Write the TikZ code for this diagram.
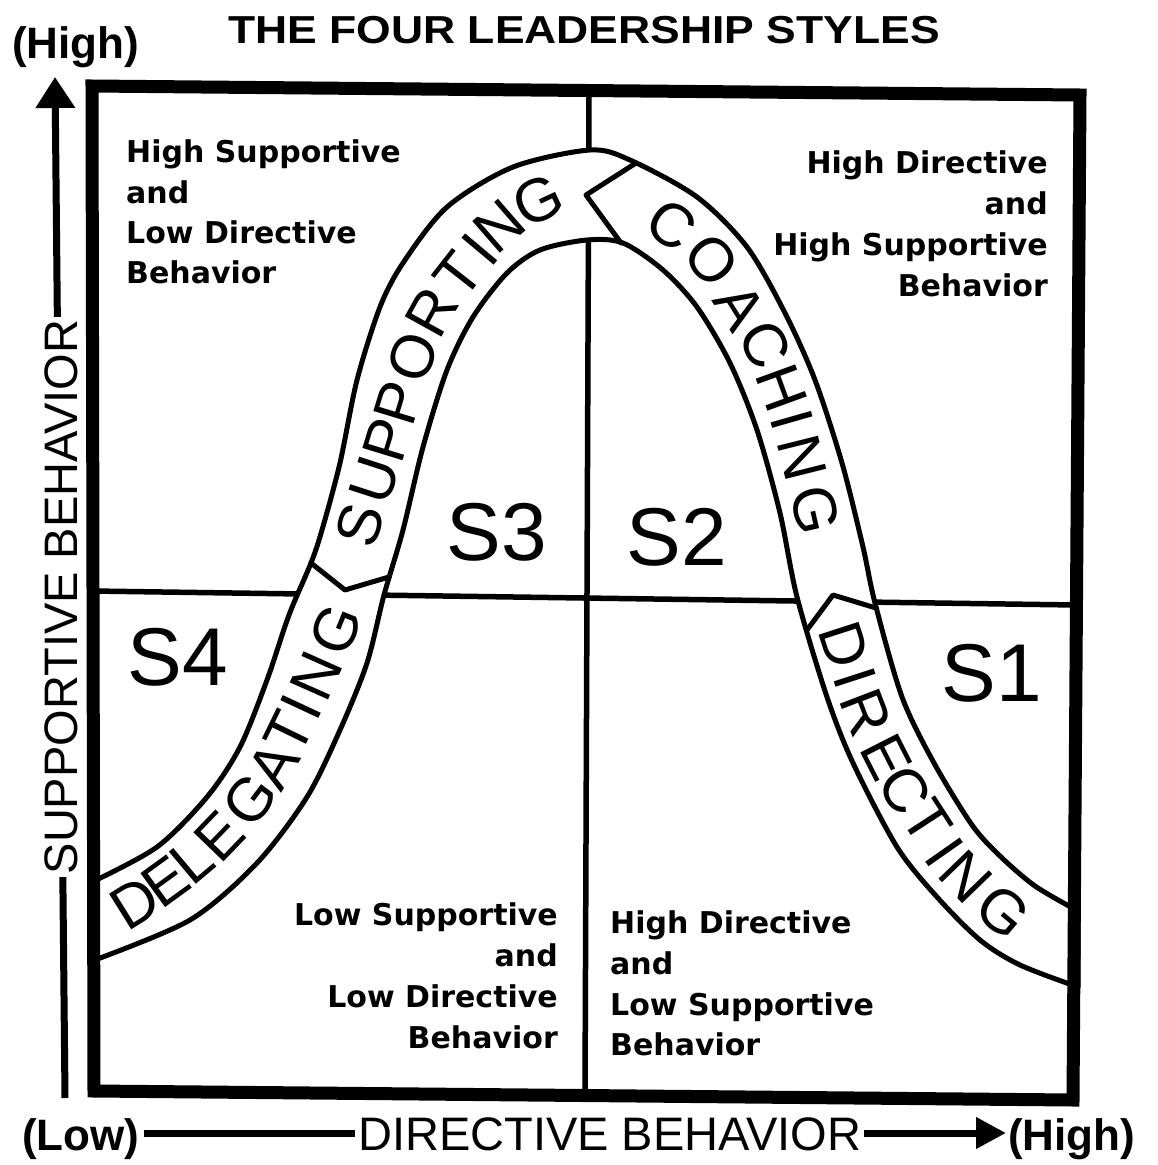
\documentclass[tikz,border=0pt]{standalone}
\usepackage{fontspec}
\setmainfont{Liberation Sans}
\newfontfamily\quadfont{DejaVu Sans}
\usetikzlibrary{arrows.meta,calc}
\begin{document}
\begin{tikzpicture}[x=1pt,y=-1pt,
  frame/.style={line width=13pt, line join=miter},
  midline/.style={line width=5.5pt},
  curve/.style={line width=5pt, line join=round, line cap=round},
  axisline/.style={line width=7pt},
  quad/.style={font={\quadfont\bfseries\fontsize{30}{30}\selectfont}, inner sep=0pt},
  slabel/.style={font={\fontsize{82}{82}\selectfont}, inner sep=0pt},
  bandletter/.style={font={\fontsize{61}{61}\selectfont}, inner sep=0pt, anchor=center},
  axlabel/.style={font={\fontsize{47}{47}\selectfont}, fill=white, inner xsep=3pt, inner ysep=2pt},
  hilo/.style={font={\bfseries\fontsize{44}{44}\selectfont}, inner sep=0pt}
]
\fill[white] (0,0) rectangle (1158,1165);
\useasboundingbox (0,0) rectangle (1158,1165);

% quadrant dividing lines
\draw[midline] (589,90) -- (585,1093);
\draw[midline] (92,591) -- (1076,605);

% the band
\filldraw[fill=white, curve] plot[smooth] coordinates {(92,882) (157,847) (207,797) (240,747) (267,680) (289,615) (311,563) (322,530) (340,463) (357,380) (380,307) (403,263) (447,207) (513,167) (590,150) (630,160) (697,197) (747,247) (785,313) (815,380) (842,463) (863,547) (875,603) (902,697) (934,763) (972,825) (1000,856) (1035,886) (1078,911)}
 -- plot[smooth] coordinates {(1078,987) (1020,965) (980,940) (937,897) (897,847) (853,763) (827,697) (797,597) (780,513) (757,430) (730,363) (697,307) (663,270) (623,243) (587,240) (540,250) (507,273) (473,317) (447,370) (423,447) (403,530) (384,595) (367,663) (340,730) (307,797) (257,863) (190,920) (92,961)} -- cycle;

% segment dividers
\draw[curve] (636,163) -- (586,195) -- (621,243);
\draw[curve] (311,563) -- (345,590) -- (389,577);
\draw[curve] (807,630) -- (833,595) -- (876,608);

% frame
\draw[frame] (92,86) -- (1080,95) -- (1073,1100) -- (94,1091) -- cycle;

% words along the band, letter by letter
\foreach \ch/\px/\py/\ang [count=\i] in {D/135/903/32, E/166/882/36, L/192/861/40, E/220/836/46, G/250/800/53, A/273/765/60, T/289/733/64, I/301/707/65, N/316/676/66, G/336/630/68}
  \node[bandletter, rotate=\ang] (del-\i) at (\px,\py) {\ch};
\foreach \ch/\px/\py/\ang [count=\i] in {S/360/525/74, U/375/480/72, P/387/440/73, P/398/403/73, O/413/357/70, R/432/312/61, T/458/275/52, I/480/250/50, N/499/226/41, G/538/200/25}
  \node[bandletter, rotate=\ang] (sup-\i) at (\px,\py) {\ch};
\foreach \ch/\px/\py/\ang [count=\i] in {C/672/225/-35, O/712/260/-50, A/740/307/-58, C/765/345/-63, H/782/388/-70, I/792/420/-74, N/802/458/-76, G/815/510/-77}
  \node[bandletter, rotate=\ang] (coa-\i) at (\px,\py) {\ch};
\foreach \ch/\px/\py/\ang [count=\i] in {D/844/645/-72, I/855/678/-72, R/866/713/-69, E/886/757/-63, C/905/790/-58, T/927/822/-57, I/945/852/-55, N/966/877/-46, G/1003/912/-40}
  \node[bandletter, rotate=\ang] (dir-\i) at (\px,\py) {\ch};

% style labels
\node[slabel] (s3) at (497,532) {S3};
\node[slabel] (s2) at (677,537) {S2};
\node[slabel] (s4) at (178,657) {S4};
\node[slabel] (s1) at (992,673) {S1};

% quadrant descriptions
\node[quad, anchor=base west] (tl1) at (126,162) {High Supportive};
\node[quad, anchor=base west] (tl2) at (126,203) {and};
\node[quad, anchor=base west] (tl3) at (126,243) {Low Directive};
\node[quad, anchor=base west] (tl4) at (126,283) {Behavior};
\node[quad, anchor=base east] (tr1) at (1048,173) {High Directive};
\node[quad, anchor=base east] (tr2) at (1048,214) {and};
\node[quad, anchor=base east] (tr3) at (1048,255) {High Supportive};
\node[quad, anchor=base east] (tr4) at (1048,296) {Behavior};
\node[quad, anchor=base east] (bl1) at (558,925) {Low Supportive};
\node[quad, anchor=base east] (bl2) at (558,966) {and};
\node[quad, anchor=base east] (bl3) at (558,1007) {Low Directive};
\node[quad, anchor=base east] (bl4) at (558,1048) {Behavior};
\node[quad, anchor=base west] (br1) at (610,933) {High Directive};
\node[quad, anchor=base west] (br2) at (610,974) {and};
\node[quad, anchor=base west] (br3) at (610,1015) {Low Supportive};
\node[quad, anchor=base west] (br4) at (610,1055) {Behavior};

% title
\node[font={\bfseries\fontsize{39}{39}\selectfont}, anchor=base, inner sep=0pt, xscale=1.14] (title) at (584,43) {THE FOUR LEADERSHIP STYLES};

% vertical axis
\node[hilo, anchor=base west] (hightop) at (12,58) {(High)};
\coordinate (vbot) at (65,1098);
\coordinate (vtop) at (55,77);
\draw[axisline, -{Triangle[width=38pt, length=31pt]}] (vbot) -- (vtop);
\node[axlabel, rotate=90] (ylab) at (61,597) {SUPPORTIVE BEHAVIOR};

% horizontal axis
\node[hilo, anchor=base west] (low) at (22,1150) {(Low)};
\node[hilo, anchor=base west] (highbot) at (1008,1150) {(High)};
\draw[axisline, -{Triangle[width=30pt, length=30pt]}] ($(low.base east)+(4,-17)$) -- ($(highbot.base west)+(-2,-17)$);
\node[axlabel, anchor=base west] (xlab) at (355,1150) {DIRECTIVE BEHAVIOR};
\end{tikzpicture}
\end{document}
